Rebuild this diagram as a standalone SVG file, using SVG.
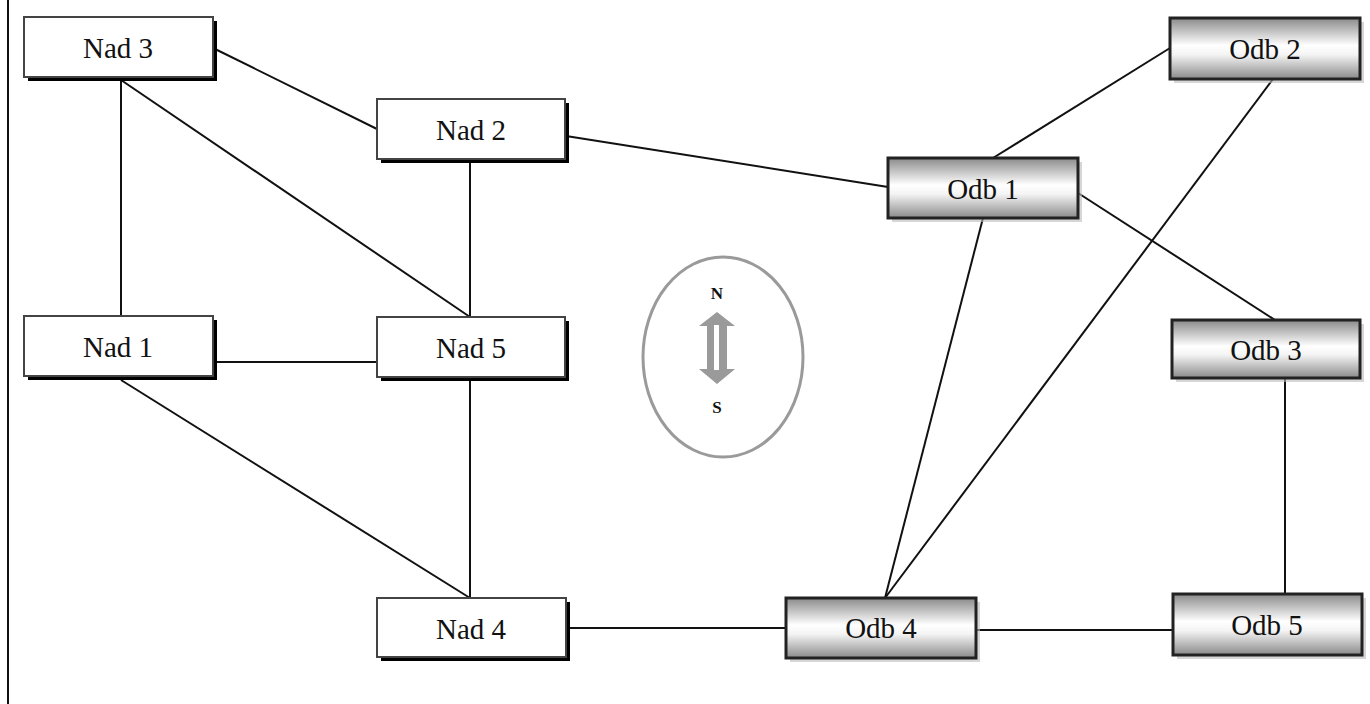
<svg xmlns="http://www.w3.org/2000/svg" width="1370" height="704" viewBox="0 0 1370 704">
<style>
.nad rect.box{fill:#fff;stroke:#444;stroke-width:2}
.nad rect.sh{fill:#000}
.odb rect.box{fill:url(#g);stroke:#222;stroke-width:3}
.odb rect.sh{fill:#bbb;opacity:.6}
text.lbl{font-family:"Liberation Serif",serif;font-size:29px;fill:#111;text-anchor:middle}
text.dir{font-family:"Liberation Serif",serif;font-size:17px;font-weight:bold;fill:#111;text-anchor:middle}
#connectors line{stroke:#111;stroke-width:2}
</style>
<defs>
<linearGradient id="g" x1="0" y1="0" x2="0" y2="1">
<stop offset="0" stop-color="#8a8a8a"/>
<stop offset="0.45" stop-color="#ffffff"/>
<stop offset="0.6" stop-color="#f4f4f4"/>
<stop offset="1" stop-color="#8a8a8a"/>
</linearGradient>
</defs>
<rect width="1370" height="704" fill="#fff"/>
<line x1="8" y1="0" x2="8" y2="704" stroke="#111" stroke-width="2"/>
<g id="connectors">
<line x1="213" y1="48" x2="377" y2="129"/>
<line x1="121" y1="80" x2="121" y2="316"/>
<line x1="121" y1="80" x2="470" y2="317"/>
<line x1="470" y1="162" x2="470" y2="317"/>
<line x1="566" y1="136" x2="888" y2="187"/>
<line x1="213" y1="362" x2="377" y2="362"/>
<line x1="121" y1="380" x2="470" y2="598"/>
<line x1="470" y1="380" x2="470" y2="598"/>
<line x1="566" y1="628" x2="786" y2="628"/>
<line x1="976" y1="630" x2="1173" y2="630"/>
<line x1="885" y1="598" x2="983" y2="218"/>
<line x1="885" y1="598" x2="1273" y2="79"/>
<line x1="993" y1="158" x2="1170" y2="48"/>
<line x1="1078" y1="193" x2="1275" y2="320"/>
<line x1="1285" y1="378" x2="1285" y2="594"/>
</g>
<g id="nad3" class="nad"><rect class="sh" x="28" y="21" width="189" height="60"/><rect class="box" x="24" y="17" width="189" height="60"/><text class="lbl" x="118" y="58">Nad 3</text></g>
<g id="nad2" class="nad"><rect class="sh" x="381" y="103" width="188" height="60"/><rect class="box" x="377" y="99" width="188" height="60"/><text class="lbl" x="471" y="140">Nad 2</text></g>
<g id="nad1" class="nad"><rect class="sh" x="28" y="320" width="189" height="60"/><rect class="box" x="24" y="316" width="189" height="60"/><text class="lbl" x="118" y="357">Nad 1</text></g>
<g id="nad5" class="nad"><rect class="sh" x="381" y="321" width="188" height="60"/><rect class="box" x="377" y="317" width="188" height="60"/><text class="lbl" x="471" y="358">Nad 5</text></g>
<g id="nad4" class="nad"><rect class="sh" x="381" y="602" width="189" height="59"/><rect class="box" x="377" y="598" width="189" height="59"/><text class="lbl" x="471" y="639">Nad 4</text></g>
<g id="odb1" class="odb"><rect class="sh" x="892" y="162" width="190" height="60"/><rect class="box" x="888" y="158" width="190" height="60"/><text class="lbl" x="983" y="199">Odb 1</text></g>
<g id="odb2" class="odb"><rect class="sh" x="1174" y="22" width="190" height="61"/><rect class="box" x="1170" y="18" width="190" height="61"/><text class="lbl" x="1265" y="59">Odb 2</text></g>
<g id="odb3" class="odb"><rect class="sh" x="1176" y="324" width="188" height="58"/><rect class="box" x="1172" y="320" width="188" height="58"/><text class="lbl" x="1266" y="360">Odb 3</text></g>
<g id="odb4" class="odb"><rect class="sh" x="790" y="602" width="190" height="60"/><rect class="box" x="786" y="598" width="190" height="60"/><text class="lbl" x="881" y="638">Odb 4</text></g>
<g id="odb5" class="odb"><rect class="sh" x="1177" y="598" width="189" height="61"/><rect class="box" x="1173" y="594" width="189" height="61"/><text class="lbl" x="1267" y="635">Odb 5</text></g>
<g id="compass">
<ellipse cx="723" cy="357" rx="80" ry="100" fill="none" stroke="#9a9a9a" stroke-width="3"/>
<text class="dir" x="717" y="299">N</text>
<text class="dir" x="717" y="413">S</text>
<polygon points="717,312 735,326 727,326 727,369 735,369 717,384 699,369 707,369 707,326 699,326" fill="#9a9a9a"/>
<rect x="714" y="325" width="5" height="45" fill="#fff"/>
</g>
</svg>
